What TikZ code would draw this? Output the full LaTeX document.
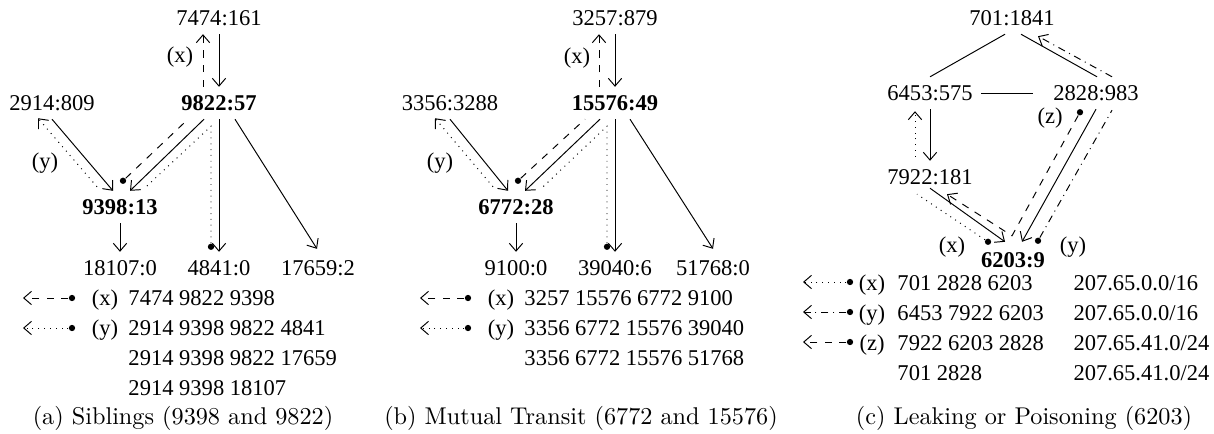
\documentclass[tikz,border=0pt]{standalone}
\usepackage{fontspec}
\newfontfamily\tnr{Liberation Serif}
\usetikzlibrary{arrows.meta,calc}

\begin{document}
\begin{tikzpicture}[x=0.4126pt,y=-0.4126pt,
    >={Straight Barb[length=3.2pt,width=5.5pt]},
    as/.style={font=\tnr\fontsize{9.3}{11}\selectfont},
    big/.style={font=\tnr\bfseries\fontsize{9.3}{11}\selectfont},
    tag/.style={as,anchor=base},
    pathrow/.style={as,anchor=base west,inner sep=0pt},
    srcdot/.style={circle,fill,inner sep=0pt,minimum size=2.6pt},
    px/.style={->,dashed},
    py/.style={->,dotted},
    pz/.style={->,dashdotted}]
  \useasboundingbox (0,0) rectangle (1214,433);

  %% (a) siblings
  \node (a7474) at (219,18) [as] {7474:161};
  \node (a9822) at (219,103) [big] {9822:57};
  \node (a2914) at (52,103) [as] {2914:809};
  \node (a9398) at (120,207) [big] {9398:13};
  \node (a18107) at (120,268) [as] {18107:0};
  \node (a4841) at (219,268) [as] {4841:0};
  \node (a17659) at (318,268) [as] {17659:2};

  %% links
  \draw[->] (a7474) -- (a9822);
  \draw[->] (a2914.south) -- ($(a9398.north)+(-7,0)$);
  \draw[->] ($(a9822.south)+(-15,0)$) -- ($(a9398.north)+(10,0)$);
  \draw[->] (a9822) -- (a4841);
  \draw[->] ($(a9822.south)+(16,0)$) -- ($(a17659.north)+(-1,-3)$);
  \draw[->] (a9398) -- (a18107);

  %% announcements
  \node (ax0) at ($(a9398.north)+(3,-10)$) [srcdot] {};
  \node (ay0) at ($(a4841.north)+(-8,-5)$) [srcdot] {};
  \draw[dashed] (ax0) -- ($(a9822.south)+(-31,0)$);
  \draw[px] ($(a9822.north)+(-16,0)$) -- ($(a7474.south)+(-16,0)$);
  \draw[dotted] (ay0) -- ($(a9822.south)+(-8,7)$) -- ($(a9398.north)+(25,-3)$);
  \draw[py] ($(a9398.north)+(-23,-4)$) -- ($(a2914.south)+(-14,-1)$);
  \node (ax) at (180,57) [as] {(x)};
  \node (ay) at (45,163) [as] {(y)};

  %% paths
  \node (akx) at (72,298) [srcdot] {};
  \coordinate (atx) at (23,298);
  \draw[px] (akx) -- (atx);
  \node (aky) at (72,328) [srcdot] {};
  \coordinate (aty) at (23,328);
  \draw[py] (aky) -- (aty);
  \node (alx) at (105,305) [tag] {(x)};
  \node (aly) at (105,335) [tag] {(y)};
  \node (ar1) at (128,305) [pathrow] {7474 9822 9398};
  \node (ar2) at (128,335) [pathrow] {2914 9398 9822 4841};
  \node (ar3) at (128,365) [pathrow] {2914 9398 9822 17659};
  \node (ar4) at (128,395) [pathrow] {2914 9398 18107};
  \node (acap) at (183,424) [anchor=base] {(a) Siblings (9398 and 9822)};

  %% (b) mutual transit
  \node (b3257) at (615,18) [as] {3257:879};
  \node (b15576) at (615,103) [big] {15576:49};
  \node (b3356) at (450,103) [as] {3356:3288};
  \node (b6772) at (516,207) [big] {6772:28};
  \node (b9100) at (516,268) [as] {9100:0};
  \node (b39040) at (615,268) [as] {39040:6};
  \node (b51768) at (713,268) [as] {51768:0};

  %% links
  \draw[->] (b3257) -- (b15576);
  \draw[->] (b3356.south) -- ($(b6772.north)+(-8,0)$);
  \draw[->] ($(b15576.south)+(-15,0)$) -- ($(b6772.north)+(9,0)$);
  \draw[->] (b15576) -- (b39040);
  \draw[->] ($(b15576.south)+(15,0)$) -- ($(b51768.north)+(0,-3)$);
  \draw[->] (b6772) -- (b9100);

  %% announcements
  \node (bx0) at ($(b6772.north)+(2,-10)$) [srcdot] {};
  \node (by0) at ($(b39040.north)+(-8,-5)$) [srcdot] {};
  \draw[dashed] (bx0) -- ($(b15576.south)+(-30,0)$);
  \draw[px] ($(b15576.north)+(-16,0)$) -- ($(b3257.south)+(-16,0)$);
  \draw[dotted] (by0) -- ($(b15576.south)+(-8,7)$) -- ($(b6772.north)+(26,-3)$);
  \draw[py] ($(b6772.north)+(-23,-4)$) -- ($(b3356.south)+(-15,-1)$);
  \node (bx) at (577,58) [as] {(x)};
  \node (by) at (440,163) [as] {(y)};

  %% paths
  \node (bkx) at (468,298) [srcdot] {};
  \coordinate (btx) at (420,298);
  \draw[px] (bkx) -- (btx);
  \node (bky) at (468,328) [srcdot] {};
  \coordinate (bty) at (420,328);
  \draw[py] (bky) -- (bty);
  \node (blx) at (501,305) [tag] {(x)};
  \node (bly) at (501,335) [tag] {(y)};
  \node (br1) at (524,305) [pathrow] {3257 15576 6772 9100};
  \node (br2) at (524,335) [pathrow] {3356 6772 15576 39040};
  \node (br3) at (524,365) [pathrow] {3356 6772 15576 51768};
  \node (bcap) at (581,424) [anchor=base] {(b) Mutual Transit (6772 and 15576)};

  %% (c) leaking or poisoning
  \node (c701) at (1012,18) [as] {701:1841};
  \node (c6453) at (930,93) [as] {6453:575};
  \node (c2828) at (1096,93) [as] {2828:983};
  \node (c7922) at (930,177) [as] {7922:181};
  \node (c6203) at (1013,260) [big] {6203:9};

  %% links
  \draw ($(c701.south)+(-7,0)$) -- (c6453.north);
  \draw ($(c701.south)+(9,0)$) -- ($(c2828.north)+(1,0)$);
  \draw (c6453.east) -- ($(c2828.west)+(-12,0)$);
  \draw[->] (c6453) -- (c7922);
  \draw[->] ($(c7922.south)+(0,-5)$) -- ($(c6203.north)+(-8,-2)$);
  \draw[->] (c2828.south) -- ($(c6203.north)+(9,-2)$);

  %% announcements
  \node (cx0) at ($(c6203.north)+(-25,-2)$) [srcdot] {};
  \node (cy0) at ($(c6203.north)+(25,-3)$) [srcdot] {};
  \node (cz0) at ($(c2828.south)+(-16,3)$) [srcdot] {};
  \draw[dotted] (cx0) -- ($(c7922.south)+(-13,1)$);
  \draw[py] ($(c7922.north)+(-15,-4)$) -- ($(c6453.south)+(-15,2)$);
  \draw[dashdotted] (cy0) -- ($(c2828.south)+(16,1)$);
  \draw[pz] ($(c2828.north)+(16,0)$) -- ($(c701.south)+(26,2)$);
  \draw[px] (cz0) -- ($(c6203.north)+(-1,-8)$) -- ($(c7922.south)+(17,1)$);
  \node (cx) at (952,247) [as] {(x)};
  \node (cy) at (1073,247) [as] {(y)};
  \node (cz) at (1050,118) [as] {(z)};

  %% paths
  \node (ckx) at (850,282) [srcdot] {};
  \coordinate (ctx) at (803,282);
  \draw[py] (ckx) -- (ctx);
  \node (cky) at (850,312) [srcdot] {};
  \coordinate (cty) at (803,312);
  \draw[pz] (cky) -- (cty);
  \node (ckz) at (850,342) [srcdot] {};
  \coordinate (ctz) at (803,342);
  \draw[px] (ckz) -- (ctz);
  \node (clx) at (872,290) [tag] {(x)};
  \node (cly) at (872,320) [tag] {(y)};
  \node (clz) at (872,350) [tag] {(z)};
  \node (cr1) at (897,290) [pathrow] {701 2828 6203};
  \node (cr2) at (897,320) [pathrow] {6453 7922 6203};
  \node (cr3) at (897,350) [pathrow] {7922 6203 2828};
  \node (cr4) at (897,380) [pathrow] {701 2828};
  \node (cp1) at (1073,290) [pathrow] {207.65.0.0/16};
  \node (cp2) at (1073,320) [pathrow] {207.65.0.0/16};
  \node (cp3) at (1073,350) [pathrow] {207.65.41.0/24};
  \node (cp4) at (1073,380) [pathrow] {207.65.41.0/24};
  \node (ccap) at (1024,424) [anchor=base] {(c) Leaking or Poisoning (6203)};
\end{tikzpicture}
\end{document}
